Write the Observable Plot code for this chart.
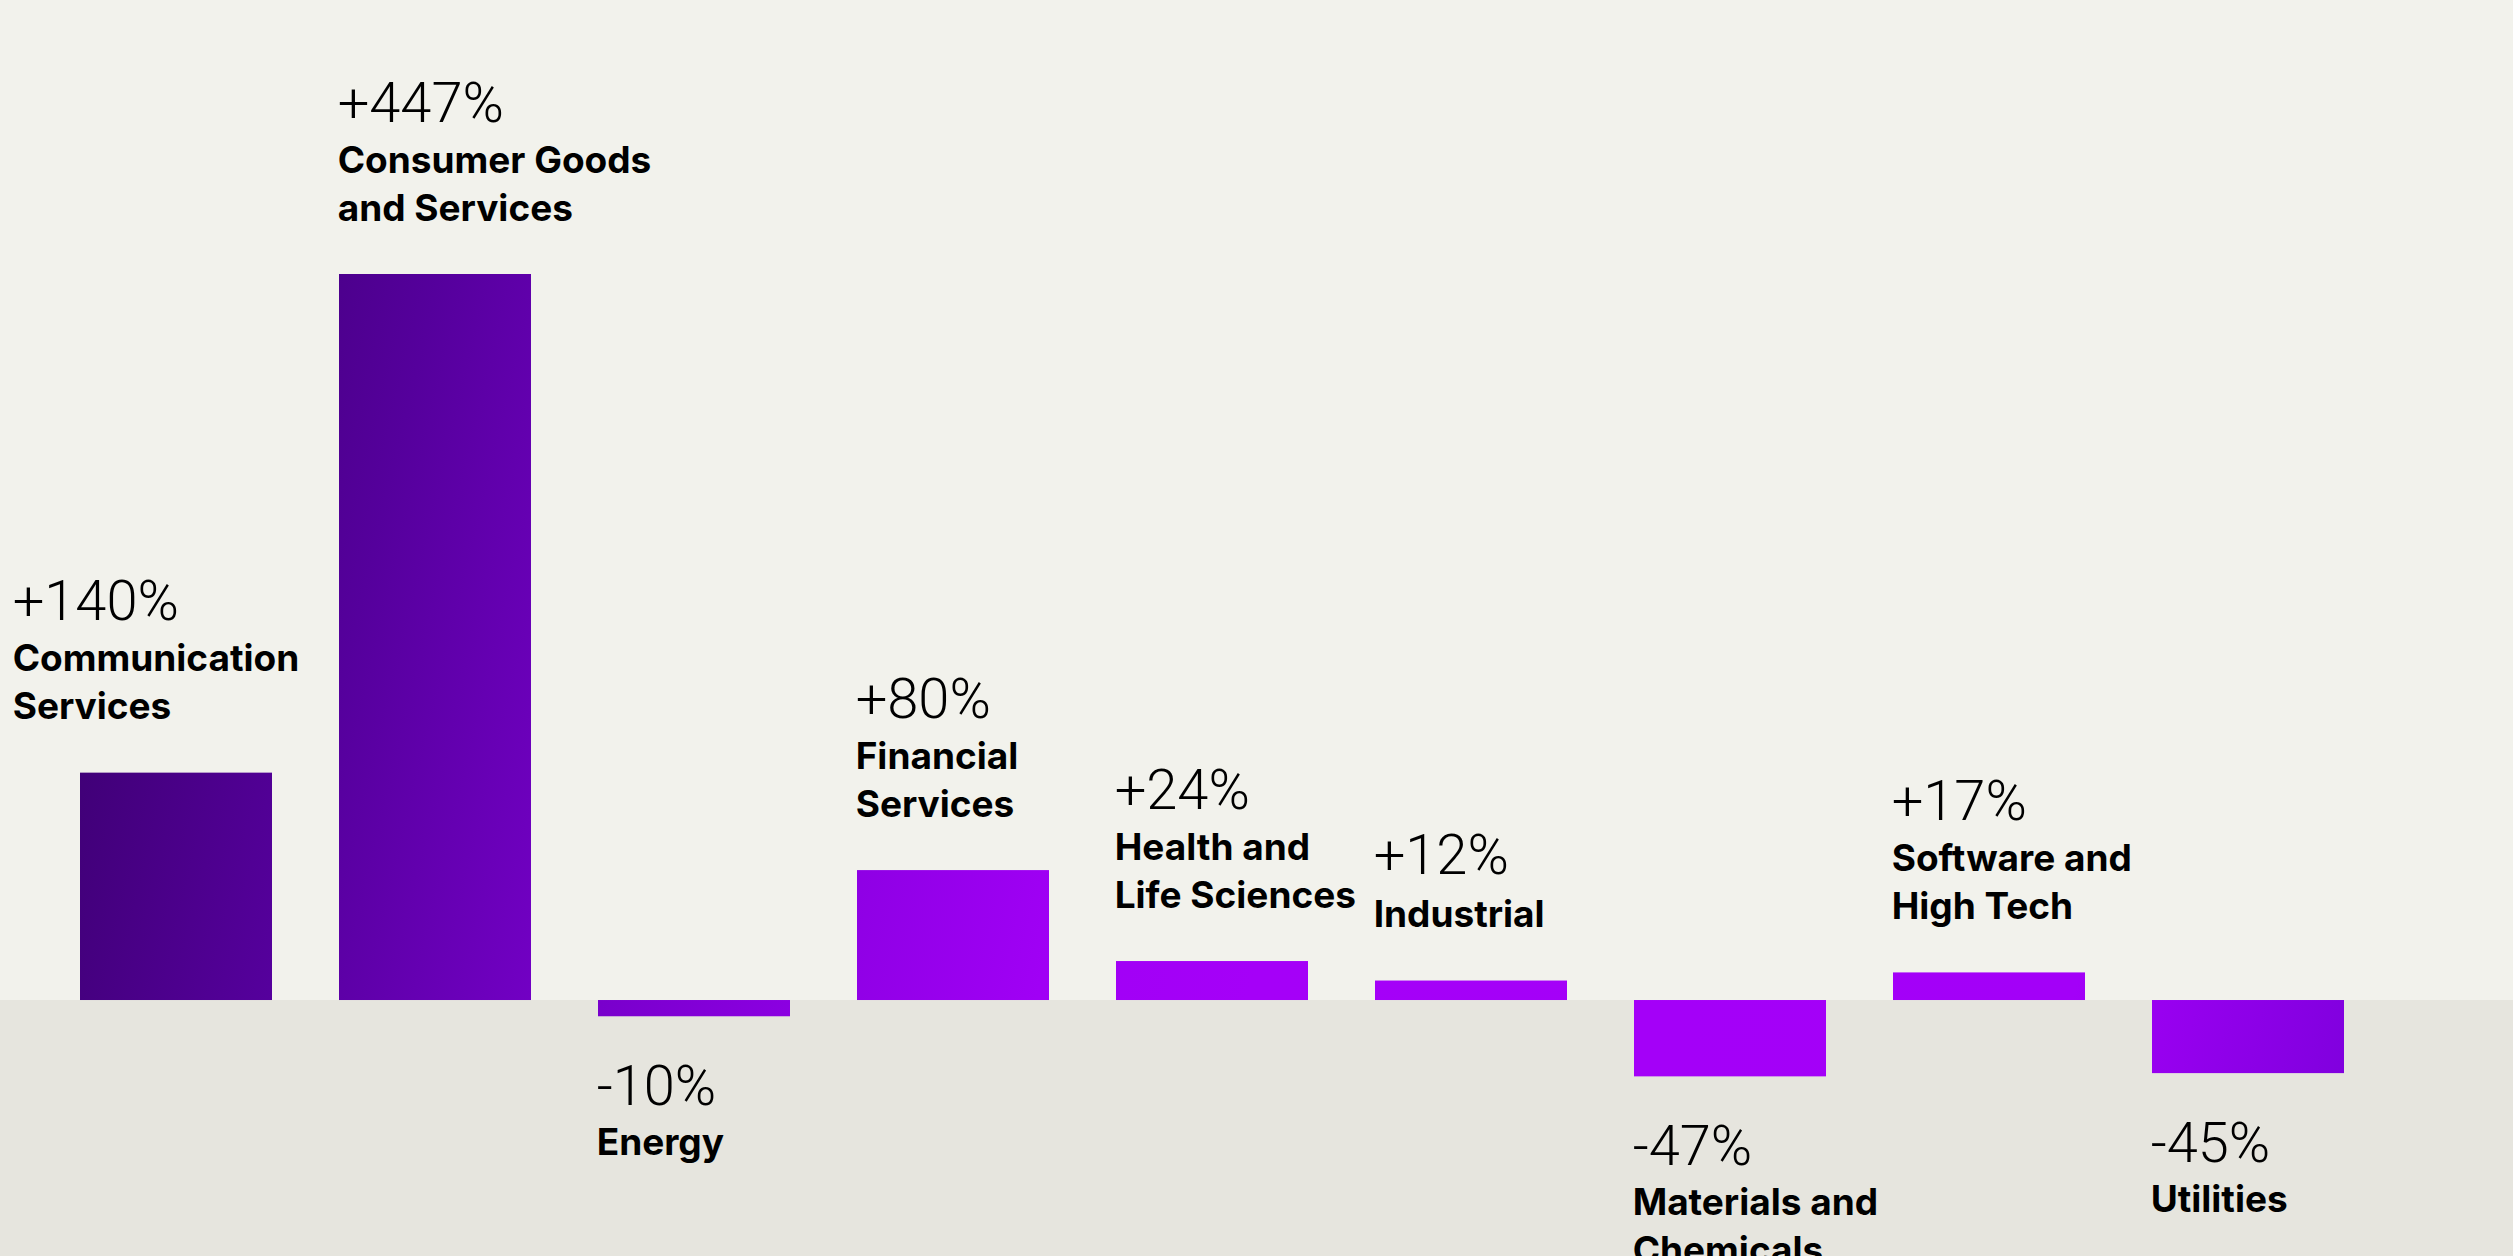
<!DOCTYPE html>
<html>
<head>
<meta charset="utf-8">
<script src="https://cdn.jsdelivr.net/npm/d3@7"></script>
<script src="https://cdn.jsdelivr.net/npm/@observablehq/plot@0.6"></script>
<style>
  html, body { margin: 0; padding: 0; background: #f2f2ec; overflow: hidden; }
  svg { display: block; }
</style>
</head>
<body>
<div id="chart"></div>
<script>
// ---- data ----
const categories = [
  "Communication\nServices",
  "Consumer Goods\nand Services",
  "Energy",
  "Financial\nServices",
  "Health and\nLife Sciences",
  "Industrial",
  "Materials and\nChemicals",
  "Software and\nHigh Tech",
  "Utilities"
];
const values = [140, 447, -10, 80, 24, 12, -47, 17, -45];

// ---- build table ----
const data = categories.map((c, i) => ({category: c, value: values[i], lines: c.split("\n").length, idx: i}));
const fmt = v => (v > 0 ? "+" : "-") + Math.abs(v) + "%";

const W = 2513, H = 1256;
const yDomain = [-157.6, 615.7];
const xRange = [80, 2344];
const pad = 0.26;
const step = (xRange[1] - xRange[0]) / (categories.length - pad);
const bw = step * (1 - pad);

const valueFont = {fontFamily: "Roboto", fontWeight: 300, fontSize: 56, fill: "#000"};
const labelFont = {fontFamily: "Inter", fontWeight: 700, fontSize: 37, fill: "#000", lineHeight: 48 / 37};

const gradient = () => {
  const defs = d3.create("svg:defs");
  const g = defs.append("linearGradient")
    .attr("id", "barGrad")
    .attr("gradientUnits", "userSpaceOnUse")
    .attr("x1", 0).attr("y1", 0).attr("x2", W).attr("y2", 600);
  [[0.08, "#3c0070"], [0.19, "#55009c"], [0.29, "#7200c4"], [0.39, "#8c00e2"],
   [0.48, "#a000f5"], [0.56, "#a500f8"], [0.87, "#a300f8"], [0.98, "#8000de"]]
    .forEach(([o, c]) => g.append("stop").attr("offset", o).attr("stop-color", c));
  return defs.node();
};

const isFirst = d => d.idx === 0;
const shiftFirst = -66;
const lx = -bw / 2 - 2;

const chart = Plot.plot({
  width: W,
  height: H,
  margin: 0,
  style: {background: "#f2f2ec"},
  x: {domain: categories, range: xRange, paddingInner: pad, paddingOuter: 0, axis: null},
  y: {domain: yDomain, axis: null},
  marks: [
    gradient,
    Plot.rect([0], {y1: 0, y2: yDomain[0], fill: "#e6e5de"}),
    Plot.barY(data, {x: "category", y: "value", fill: "url(#barGrad)", inset: 0}),
    // positive: category labels
    Plot.text(data, {filter: d => d.value > 0 && !isFirst(d), x: "category", y: "value", text: "category",
      textAnchor: "start", lineAnchor: "bottom", dx: lx, dy: -54, ...labelFont}),
    Plot.text(data, {filter: d => d.value > 0 && isFirst(d), x: "category", y: "value", text: "category",
      textAnchor: "start", lineAnchor: "bottom", dx: lx + shiftFirst, dy: -54, ...labelFont}),
    // positive: value labels (two-line categories)
    Plot.text(data, {filter: d => d.value > 0 && d.lines === 2 && !isFirst(d), x: "category", y: "value", text: d => fmt(d.value),
      textAnchor: "start", lineAnchor: "bottom", dx: lx, dy: -153, ...valueFont}),
    Plot.text(data, {filter: d => d.value > 0 && d.lines === 2 && isFirst(d), x: "category", y: "value", text: d => fmt(d.value),
      textAnchor: "start", lineAnchor: "bottom", dx: lx + shiftFirst, dy: -153, ...valueFont}),
    // positive: value labels (one-line categories)
    Plot.text(data, {filter: d => d.value > 0 && d.lines === 1, x: "category", y: "value", text: d => fmt(d.value),
      textAnchor: "start", lineAnchor: "bottom", dx: lx, dy: -107, ...valueFont}),
    // negative: value labels
    Plot.text(data, {filter: d => d.value < 0, x: "category", y: "value", text: d => fmt(d.value),
      textAnchor: "start", lineAnchor: "bottom", dx: lx, dy: 88, ...valueFont}),
    // negative: category labels
    Plot.text(data, {filter: d => d.value < 0, x: "category", y: "value", text: "category",
      textAnchor: "start", lineAnchor: "top", dx: lx, dy: 138 - 0.71 * 48, ...labelFont})
  ]
});
document.getElementById("chart").appendChild(chart);
</script>
</body>
</html>
